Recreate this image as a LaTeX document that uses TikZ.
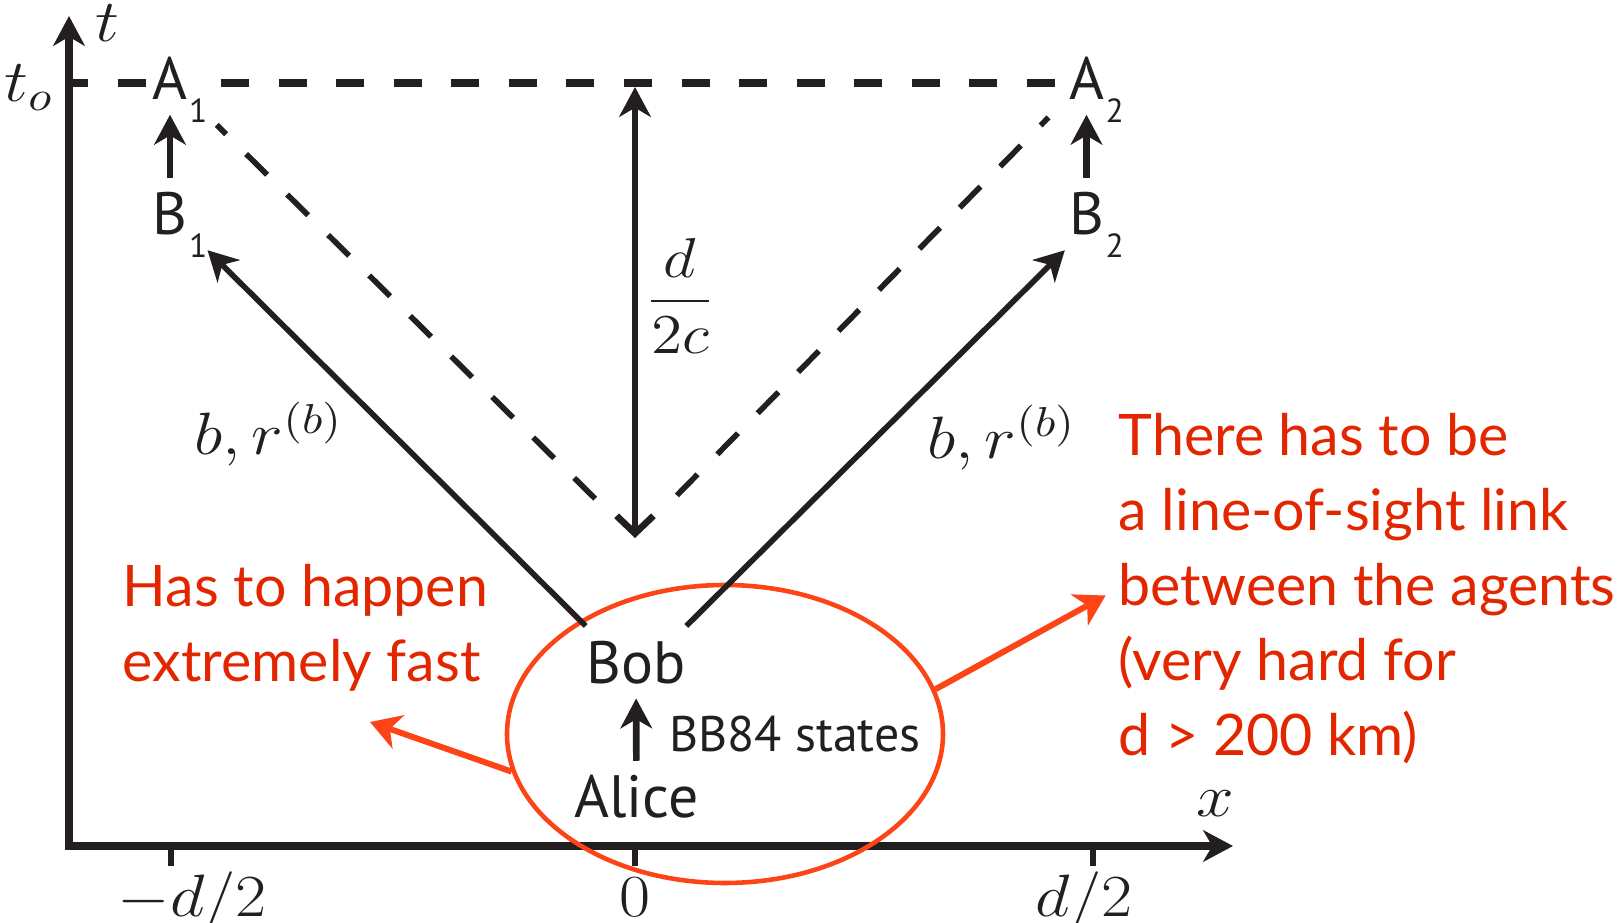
\RequirePackage{fix-cm}
\documentclass[tikz,border=0pt]{standalone}
\usepackage{amsmath}
\usepackage{graphicx}
\usepackage{fontspec}
\setmainfont{PT Sans}
\newfontfamily\notefont{Lato}
\usetikzlibrary{arrows.meta,shapes.geometric}
\definecolor{ink}{RGB}{35,31,32}
\definecolor{notered}{RGB}{226,38,0}
\definecolor{ringred}{RGB}{252,68,22}
\newcommand{\lowidx}[1]{\rlap{\smash{\raisebox{-6.3pt}{\kern0.5pt\fontsize{9.5}{9.5}\selectfont #1}}}}
\newcommand{\widemath}[1]{\scalebox{1.13}[1]{$#1$}}

\begin{document}
\begin{tikzpicture}[>={Stealth[length=8.5pt,width=9pt,inset=2.6pt]},
  agent/.style={anchor=base,inner xsep=1pt,inner ysep=4pt,text=ink,font=\fontsize{17}{20}\selectfont},
  lab/.style={inner sep=0pt,text=ink,font=\fontsize{17}{20}\selectfont},
  note/.style={anchor=north west,align=left,inner sep=0pt,text=notered,font=\notefont\fontsize{16.3}{21.3}\selectfont},
  toline/.style={ink,line width=2.2pt,dash pattern=on 7.96pt off 8.41pt},
  dashv/.style={ink,line width=1.6pt,dash pattern=on 8.4pt off 8pt},
  hint/.style={->,line width=1.7pt,draw=ringred,>={Stealth[length=8.5pt,width=10pt,inset=2.5pt]}}]
  \useasboundingbox (0,0) rectangle (16.21,9.23);

  % axes
  \draw[<->,line width=2.2pt,ink] (0.69,9.07) -- (0.69,0.77) -- (12.33,0.77);
  \foreach \x in {1.71,6.35,10.93} \draw[line width=1.8pt,ink] (\x,0.77) -- (\x,0.57);
  \node[lab,anchor=base] (tlab) at (1.07,8.81) {\widemath{t}};
  \node[lab,anchor=base east] (tolab) at (0.54,8.21) {\widemath{t_o}};
  \node[lab,anchor=base] (xlab) at (12.15,1.06) {\widemath{x}};
  \node[lab,anchor=base] (mlab) at (1.92,0.06) {\widemath{-d/2}};
  \node[lab,anchor=base] (zlab) at (6.35,0.06) {\widemath{0}};
  \node[lab,anchor=base] (plab) at (10.84,0.06) {\widemath{d/2}};

  % agents
  \node[agent] (A1) at (1.70,8.23) {A\lowidx{1}};
  \node[agent] (A2) at (10.865,8.23) {A\lowidx{2}};
  \node[agent,inner xsep=5.5pt] (B1) at (1.70,6.88) {B\lowidx{1}};
  \node[agent] (B2) at (10.865,6.88) {B\lowidx{2}};
  \draw[->,line width=1.9pt,ink] (B1) -- (A1);
  \draw[->,line width=1.9pt,ink] (B2) -- (A2);

  % time t_o
  \coordinate (to) at (0.69,8.40);
  \draw[toline,dash phase=2.5pt] (to) -- (to -| A1.west);
  \draw[toline,dash phase=7.96pt] (to -| A1.east) -- (to -| A2.west);

  % light cone
  \coordinate (apex) at (6.35,3.85);
  \coordinate (top) at (6.35,8.36);
  \draw[dashv,shorten <=15.9pt,shorten >=18.7pt] (apex) -- (A1.center);
  \draw[dashv,shorten <=17pt,shorten >=15.4pt] (apex) -- (A2.center);
  \draw[{Straight Barb[length=5pt,width=10.5pt]}->,line width=1.9pt,ink] (apex) -- (top);
  \node[lab,font=\fontsize{16}{19}\selectfont] (dist) at (6.80,6.27) {\widemath{\dfrac{d}{2c}}};

  % source
  \node[ellipse,draw=ringred,line width=1.3pt,minimum width=4.36cm,minimum height=2.98cm,inner sep=0pt] (ring) at (7.25,1.89) {};
  \node[agent,inner xsep=0pt] (Bob) at (6.36,2.40) {Bob};
  \node[agent] (Alice) at (6.365,1.05) {Alice};
  \node[agent,anchor=base west,font=\fontsize{14.2}{16}\selectfont] (states) at (6.65,1.71) {BB84 states};
  \draw[->,line width=1.9pt,ink] (Alice) -- (Bob);
  \draw[->,line width=1.6pt,ink] (Bob.north west) -- (B1.south east);
  \draw[->,line width=1.6pt,ink] (Bob.north east) -- (B2.south west);
  \node[lab,anchor=base] (bl) at (2.685,4.68) {\widemath{b,r^{(b)}}};
  \node[lab,anchor=base] (br) at (10.015,4.65) {\widemath{b,r^{(b)}}};

  % remarks
  \node[note] (fastnote) at (1.22,3.59) {Has to happen\\extremely fast};
  \node[note] (linknote) at (11.18,5.10) {There has to be\\a line-of-sight link\\between the agents\\(very hard for\\d > 200 km)};
  \coordinate (fasttip) at (3.70,2.01);
  \draw[hint] (ring.190) -- (fasttip);
  \draw[hint,shorten >=4pt] (ring.12) -- (linknote.west);
\end{tikzpicture}
\end{document}
